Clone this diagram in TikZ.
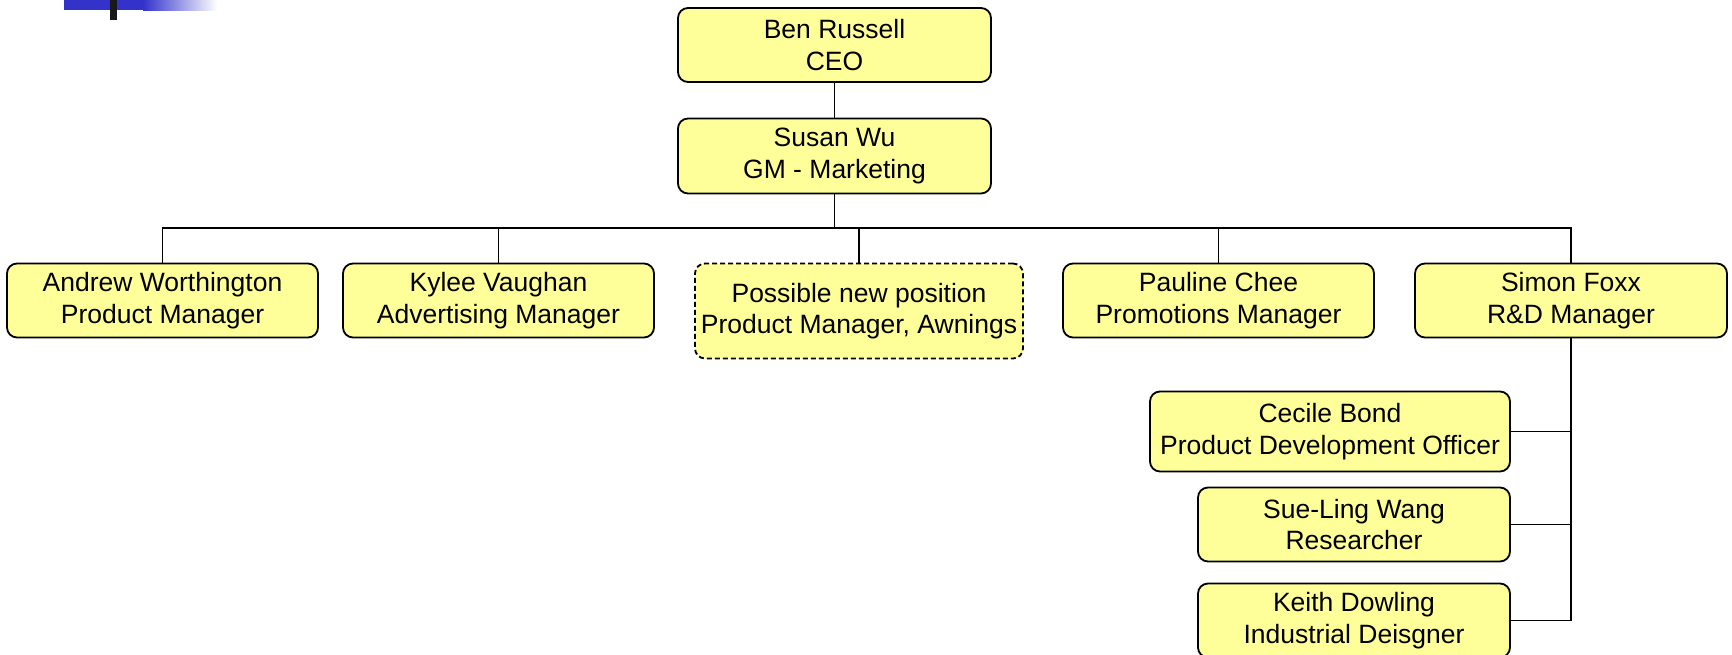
\documentclass[tikz,border=0pt]{standalone}
\usepackage{fontspec}
\setmainfont{Liberation Sans}
\usepackage{tikz}
\usetikzlibrary{shapes,arrows,backgrounds,positioning}
\definecolor{boxfill}{HTML}{FFFF99}
\definecolor{barblue}{HTML}{3333CC}

\begin{document}
\begin{tikzpicture}[x=1pt,y=-1pt]
			\tikzstyle{Person}	= [rectangle, rounded corners=10pt, draw, line width=1.8pt, fill=boxfill, align=center, inner sep=0pt, minimum height=74pt, font=\fontsize{26.5}{31.5}\selectfont]
			\tikzstyle{Wide}	= [minimum width=311pt]
			\tikzstyle{Vacant}	= [dash pattern=on 5pt off 3pt]
			\tikzstyle{Link}	= [line width=1.8pt]

			\useasboundingbox (0,0) rectangle (1732,654);

			% corner decoration
			\fill [barblue] (64,0) rectangle (143,10);
			\shade [left color=barblue, right color=white] (143,0) rectangle (217,10);
			\fill [black!90] (110,0) rectangle (117,20);

			\node (ceo) at (834.5,45) [Person][minimum width=313pt] {Ben Russell\\CEO};
			\node (gm) at (834.5,156) [Person][minimum width=313pt, minimum height=75pt] {Susan Wu\\GM - Marketing};
			\coordinate (bar) at (834.5,228);

			\node (andrew) at (162.5,300.5) [Person][Wide] {Andrew Worthington\\Product Manager};
			\node (kylee) at (498.5,300.5) [Person][Wide] {Kylee Vaughan\\Advertising Manager};
			\node (newpos) at (859,311) [Person][Vacant][minimum width=328pt, minimum height=95pt] {Possible new position\\Product Manager, Awnings};
			\node (pauline) at (1218.5,300.5) [Person][Wide] {Pauline Chee\\Promotions Manager};
			\node (simon) at (1571,300.5) [Person][minimum width=312pt] {Simon Foxx\\R\&D Manager};

			\node (cecile) at (1330,431.5) [Person][minimum width=360pt, minimum height=80pt] {Cecile Bond\\Product Development Officer};
			\node (sueling) at (1354,524.5) [Person][minimum width=312pt] {Sue-Ling Wang\\Researcher};
			\node (keith) at (1354,620.5) [Person][minimum width=312pt] {Keith Dowling\\Industrial Deisgner};

			\draw [-] (ceo) to (gm) [Link];
			\draw [-] (gm) to (bar) [Link];
			\draw [-] (andrew.north) |- (bar) [Link];
			\draw [-] (kylee.north) |- (bar) [Link];
			\draw [-] (newpos.north) |- (bar) [Link];
			\draw [-] (pauline.north) |- (bar) [Link];
			\draw [-] (simon.north) |- (bar) [Link];
			\draw [-] (cecile.east) -| (simon.south) [Link];
			\draw [-] (sueling.east) -| (simon.south) [Link];
			\draw [-] (keith.east) -| (simon.south) [Link];
		\end{tikzpicture}
\end{document}
